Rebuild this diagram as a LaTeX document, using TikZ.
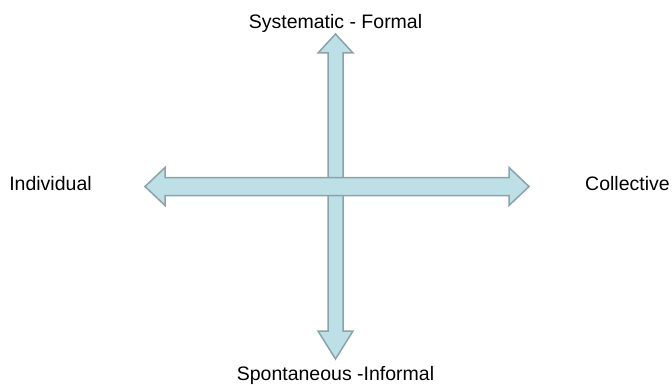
\documentclass[tikz,border=0pt]{standalone}
\usepackage{fontspec}
\setmainfont{Liberation Sans}
\usetikzlibrary{positioning,calc}
\definecolor{axfill}{HTML}{BCE0E6}
\definecolor{axline}{HTML}{8AA3A9}

\begin{document}
\begin{tikzpicture}[x=1pt, y=-1pt,
    every node/.style={font=\fontsize{19.5}{23}\selectfont, anchor=base},
    axisarrow/.style={fill=axfill, draw=axline, line width=1.5pt, line join=miter}]
    \useasboundingbox (0,0) rectangle (672,385);
    % vertical axis
    \draw[axisarrow] (328,53) -- (318,53) -- (335.5,34) -- (353,53) -- (343,53)
      -- (343,331) -- (353,331) -- (335.5,359) -- (318,331) -- (328,331) -- cycle;
    % horizontal axis
    \draw[axisarrow] (165,177.5) -- (165,167.5) -- (145,186.5) -- (165,205.5) -- (165,195.5)
      -- (509,195.5) -- (509,205.5) -- (529,186.5) -- (509,167.5) -- (509,177.5) -- cycle;
    \node (formal) at (335.5,28.3) {Systematic - Formal};
    \node (informal) at (335.5,380) {Spontaneous -Informal};
    \node (indiv) at (50.5,190.7) {Individual};
    \node (collect) at (627.5,190.7) {Collective};
  \end{tikzpicture}
\end{document}
